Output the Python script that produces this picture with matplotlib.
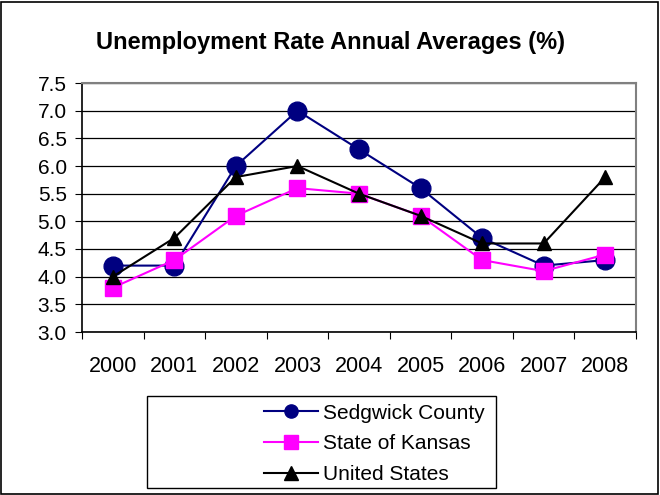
import matplotlib.pyplot as plt
from matplotlib.patches import Rectangle
from matplotlib.lines import Line2D

plt.rcParams['font.family'] = ['Liberation Sans', 'DejaVu Sans']

years = ['2000', '2001', '2002', '2003', '2004', '2005', '2006', '2007', '2008']
sedgwick = [4.2, 4.2, 6.0, 7.0, 6.3, 5.6, 4.7, 4.2, 4.3]
kansas = [3.8, 4.3, 5.1, 5.6, 5.5, 5.1, 4.3, 4.1, 4.4]
usa = [4.0, 4.7, 5.8, 6.0, 5.5, 5.1, 4.6, 4.6, 5.8]
y_ticks = [3.0, 3.5, 4.0, 4.5, 5.0, 5.5, 6.0, 6.5, 7.0, 7.5]

W, H = 660, 495
fig = plt.figure(figsize=(6.6, 4.95), dpi=100)
fig.patches.append(Rectangle((1 / W, 1 / H), 1 - 3 / W, 1 - 3 / H, transform=fig.transFigure,
                             fill=False, edgecolor='black', linewidth=1.2))

ax = fig.add_axes([82 / W, 1 - 332 / H, (636 - 82) / W, (332 - 83) / H])
x = list(range(len(years)))

ax.plot(x, sedgwick, color='#000080', marker='o', markersize=13.5, linewidth=1.5, zorder=3)
ax.plot(x, kansas, color='#ff00ff', marker='s', markersize=11.5, linewidth=1.5, zorder=3)
ax.plot(x, usa, color='black', marker='^', markersize=10, linewidth=1.5, zorder=4)

ax.set_xlim(-0.5, len(years) - 0.5)
ax.set_ylim(3.0, 7.5)
ax.set_yticks(y_ticks)
ax.set_yticklabels(['%.1f' % v for v in y_ticks], fontsize=15)
ax.set_xticks([i - 0.5 for i in range(len(years) + 1)])
ax.set_xticklabels([])
ax.set_xticks(x, minor=True)
ax.set_xticklabels(years, minor=True, fontsize=15.5)
ax.tick_params(axis='x', which='minor', length=0, pad=17)
ax.tick_params(axis='x', which='major', length=5, direction='out', color='black')
ax.tick_params(axis='y', length=5, direction='out', color='black', pad=6)
ax.grid(axis='y', color='black', linewidth=0.9)
ax.set_axisbelow(True)

ax.spines['top'].set_color('#808080')
ax.spines['top'].set_linewidth(1.5)
ax.spines['right'].set_color('#808080')
ax.spines['right'].set_linewidth(1.5)
ax.spines['left'].set_linewidth(1.2)
ax.spines['bottom'].set_linewidth(1.2)

fig.text(0.5, 1 - 42 / H, 'Unemployment Rate Annual Averages (%)', ha='center', va='center',
         fontsize=17, fontweight='bold')

fig.patches.append(Rectangle((147 / W, 1 - 488 / H), (496 - 147) / W, (488 - 396) / H,
                             transform=fig.transFigure, fill=False, edgecolor='black', linewidth=1))
handles = [
    Line2D([], [], color='#000080', marker='o', markersize=9.5, linewidth=1.5),
    Line2D([], [], color='#ff00ff', marker='s', markersize=9.5, linewidth=1.5),
    Line2D([], [], color='black', marker='^', markersize=9.5, linewidth=1.5),
]
labels = ['Sedgwick County', 'State of Kansas', 'United States']
fig.legend(handles, labels, loc='upper left', bbox_to_anchor=(245 / W, 1 - 385 / H),
           frameon=False, fontsize=15, handlelength=2.6, labelspacing=0.56,
           handletextpad=0.25, borderpad=0.4)

fig.savefig('out.png', dpi=100)
